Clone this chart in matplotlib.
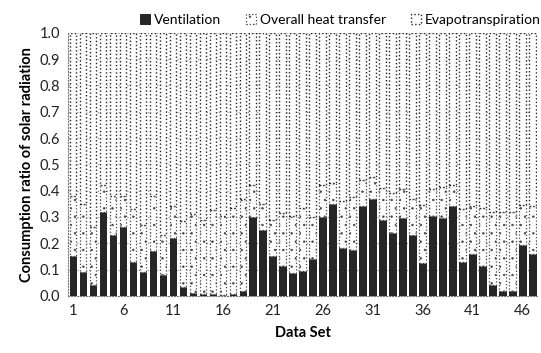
import matplotlib.pyplot as plt
import numpy as np

plt.rcParams['font.family'] = ['Lato', 'DejaVu Sans']

# Data sets 1..47
data_set = list(range(1, 48))

# Share of solar radiation consumed by each term
ventilation = [0.15, 0.09, 0.04, 0.32, 0.23, 0.26, 0.13, 0.09, 0.17, 0.08,
               0.22, 0.035, 0.01, 0.008, 0.006, 0.004, 0.005, 0.02, 0.30, 0.25,
               0.15, 0.115, 0.085, 0.095, 0.14, 0.30, 0.35, 0.18, 0.175, 0.34,
               0.37, 0.29, 0.24, 0.295, 0.23, 0.125, 0.305, 0.295, 0.34, 0.13,
               0.16, 0.115, 0.04, 0.02, 0.02, 0.195, 0.16]
heat_transfer = [0.23, 0.26, 0.22, 0.10, 0.15, 0.12, 0.20, 0.18, 0.21, 0.15,
                 0.12, 0.25, 0.30, 0.28, 0.32, 0.30, 0.33, 0.35, 0.12, 0.10,
                 0.14, 0.20, 0.22, 0.24, 0.16, 0.12, 0.08, 0.18, 0.20, 0.10,
                 0.08, 0.12, 0.15, 0.11, 0.14, 0.22, 0.10, 0.12, 0.08, 0.20,
                 0.18, 0.22, 0.28, 0.30, 0.30, 0.15, 0.18]
evapotranspiration = [0.62, 0.65, 0.74, 0.58, 0.62, 0.62, 0.67, 0.73, 0.62, 0.77,
                      0.66, 0.715, 0.69, 0.712, 0.674, 0.696, 0.665, 0.63, 0.58, 0.65,
                      0.71, 0.685, 0.695, 0.665, 0.70, 0.58, 0.57, 0.64, 0.625, 0.56,
                      0.55, 0.59, 0.61, 0.595, 0.63, 0.655, 0.595, 0.585, 0.58, 0.67,
                      0.66, 0.665, 0.68, 0.68, 0.68, 0.655, 0.66]

xticks = [1, 6, 11, 16, 21, 26, 31, 36, 41, 46]

fig, ax = plt.subplots(figsize=(5.41, 3.53), dpi=100)
fig.subplots_adjust(left=0.126, right=0.993, top=0.907, bottom=0.162)

x = np.array(data_set)
v = np.array(ventilation)
h = np.array(heat_transfer)
w = 0.66

plt.rcParams['hatch.color'] = '#c4c4c4'
plt.rcParams['hatch.linewidth'] = 0.5

ax.bar(x, v, width=w, color='#262626', edgecolor='#111111', linewidth=0.6,
       label='Ventilation', zorder=3)
ax.bar(x, h, width=w, bottom=v, color='white', edgecolor='#444444', linewidth=0.9,
       linestyle=':', hatch='..', label='Overall heat transfer', zorder=3)
ax.bar(x, evapotranspiration, width=w, bottom=v + h, color='white',
       edgecolor='#222222', linewidth=1.0, linestyle=':', label='Evapotranspiration', zorder=3)

# Axes and grid
ax.set_xlim(0.5, 47.5)
ax.set_ylim(0, 1.0)
ax.set_yticks(np.arange(0, 1.01, 0.1))
ax.set_yticklabels(['%.1f' % t for t in np.arange(0, 1.01, 0.1)])
ax.set_xticks(xticks)
ax.tick_params(axis='both', labelsize=10.5, length=0, colors='#222222', pad=6)
ax.yaxis.grid(True, linestyle=':', color='#888888', linewidth=0.8, zorder=0)
for s in ['top', 'right']:
    ax.spines[s].set_visible(False)
ax.spines['left'].set_linestyle(':')
ax.spines['left'].set_color('#777777')
ax.spines['bottom'].set_linestyle(':')
ax.spines['bottom'].set_color('#777777')

ax.set_xlabel('Data Set', fontsize=10.5, fontweight='bold', labelpad=6)
ax.set_ylabel('Consumption ratio of solar radiation', fontsize=10.5, fontweight='bold')

ax.legend(loc='lower center', bbox_to_anchor=(0.58, 0.995), ncol=3, frameon=False,
          fontsize=10, handlelength=0.7, handleheight=0.7, columnspacing=1.8,
          handletextpad=0.3, borderaxespad=0.2)

plt.savefig('out.png', dpi=100)
